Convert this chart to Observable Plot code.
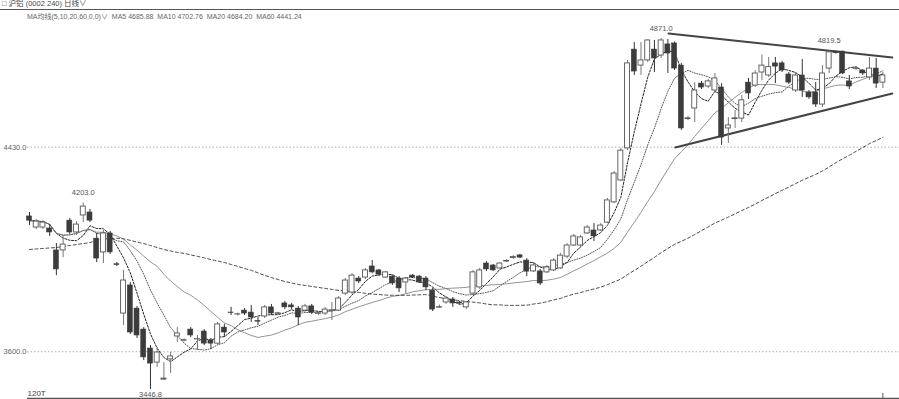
<!DOCTYPE html>
<html><head><meta charset="utf-8">
<script src="https://cdn.jsdelivr.net/npm/d3@7"></script>
<script src="https://cdn.jsdelivr.net/npm/@observablehq/plot@0.6"></script>
<style>
body{margin:0;background:#fff;font-family:"Liberation Sans","Noto Sans CJK SC",sans-serif;}
#wrap{position:relative;width:899px;height:399px;overflow:hidden;}
#chart{position:absolute;left:0;top:0;}
#h1{position:absolute;left:2px;top:0px;font-size:7.5px;line-height:8px;color:#444;white-space:nowrap;font-family:"Liberation Sans","Noto Sans CJK SC",sans-serif;}
#h2{position:absolute;left:27px;top:11px;font-size:7px;color:#666;white-space:nowrap;font-family:"Liberation Sans","Noto Sans CJK SC",sans-serif;}
#topline{position:absolute;left:0;top:9px;width:899px;height:0;border-top:1.5px solid #555;}
</style></head>
<body>
<div id="wrap"><div id="chart"></div><div id="topline"></div>
<div id="h1">□ 沪铝 (0002 240) 日线∨</div>
<div id="h2">MA均线(5,10,20,60,0,0)∨ &nbsp;MA5 4685.88 &nbsp;MA10 4702.76 &nbsp;MA20 4684.20 &nbsp;MA60 4441.24</div>
</div>
<script>
const opens  = [4149,4104,4104,4100,4011,4011,4132,4084,4153,4165,4059,4003,4080,3955,3755,3869,3775,3690,3613,3556,
3487,3569,3662,3645,3690,3650,3682,3646,3633,3698,3759,3751,3767,3759,3724,3743,3780,3754,3796,3788,
3775,3767,3784,3754,3755,3767,3767,3836,3840,3897,3901,3946,3930,3901,3905,3897,3881,3909,3905,3897,
3848,3779,3800,3812,3800,3780,3836,3861,3958,3950,3938,3966,3980,3991,3970,3926,3926,3922,3930,3938,
3986,4031,4031,4080,4092,4092,4124,4206,4295,4425,4826,4761,4782,4826,4802,4847,4851,4761,4544,4587,
4688,4676,4660,4672,4506,4544,4546,4692,4680,4733,4721,4770,4770,4725,4660,4721,4652,4652,4603,4749,
4818,4818,4697,4748,4741,4713,4749,4692];
const highs  = [4165,4137,4132,4116,4039,4072,4141,4128,4203,4177,4080,4092,4088,3962,3930,3881,3784,3698,3625,3617,
3556,3597,3698,3652,3698,3666,3690,3654,3719,3711,3780,3757,3775,3788,3739,3788,3792,3760,3804,3796,
3784,3792,3792,3760,3780,3800,3824,3897,3917,3905,3938,3970,3934,3926,3909,3905,3901,3913,3909,3905,
3857,3790,3824,3820,3804,3804,3930,3938,3966,3954,3962,3974,3990,3995,3978,3958,3934,3950,3978,3999,
4039,4076,4072,4112,4120,4120,4222,4331,4425,4782,4855,4855,4866,4863,4871,4867,4857,4770,4555,4692,
4697,4705,4729,4688,4550,4579,4640,4709,4741,4805,4794,4794,4778,4733,4733,4786,4660,4692,4761,4819.5,
4819,4819,4721,4757,4745,4794,4790,4733];
const lows   = [4112,4096,4096,4068,3909,3982,4076,4072,4124,4124,3962,3958,3995,3946,3706,3670,3654,3564,3446.8,3536,
3483,3512,3638,3640,3658,3605,3625,3609,3625,3658,3747,3745,3747,3719,3706,3735,3747,3750,3771,3771,
3706,3759,3751,3747,3747,3727,3763,3828,3832,3877,3893,3917,3905,3897,3869,3840,3836,3897,3877,3848,
3763,3775,3792,3780,3792,3771,3828,3853,3926,3926,3934,3962,3975,3978,3905,3922,3869,3917,3926,3934,
3978,4027,4023,4076,4047,4088,4120,4201,4290,4416,4721,4721,4774,4733,4790,4729,4741,4498,4538,4530,
4664,4668,4648,4437,4445,4506,4530,4624,4672,4701,4713,4688,4733,4684,4652,4632,4624,4591,4591,4729,
4808,4725,4664,4741,4721,4701,4668,4668];
const closes = [4132,4128,4124,4084,3934,4035,4084,4116,4189,4132,3978,4080,4003,3952,3889,3678,3666,3577,3552,3597,
3491,3581,3674,3647,3666,3651,3633,3633,3711,3678,3757,3752,3755,3739,3722,3780,3755,3756,3780,3780,
3739,3784,3759,3756,3771,3768,3816,3889,3909,3885,3930,3922,3913,3922,3877,3857,3897,3901,3881,3861,
3771,3781,3816,3796,3796,3800,3922,3930,3934,3930,3958,3968,3984,3982,3925,3950,3877,3942,3970,3990,
4031,4068,4064,4104,4068,4112,4214,4323,4416,4770,4737,4782,4863,4790,4863,4810,4749,4506,4547,4660,
4672,4697,4709,4469,4518,4547,4620,4648,4729,4761,4755,4757,4741,4692,4721,4660,4632,4603,4729,4815,
4812,4729,4676,4750,4729,4749,4688,4721];
const ma60Lead = [4015,4017,4019,4021,4023,4027,4031,4035,4039,4043,4052,4056,4060,4060,4058,4052,4045,4039,4031,4023,
4015,4009,4003,3999,3993,3987,3981,3974,3968,3962,3954,3946,3938,3930,3920,3910,3901,3893,3885,3879,
3873,3869,3865,3861,3857,3853,3849,3847,3843,3841,3837,3834,3832,3830,3829,3829,3829,3830,3831];

const gridTicks = [4430, 3600];
const peakLabels = [8, 94, 119];
const troughLabels = [18];
const maShort = [5, 10, 20];
const maLong = 60;
const trendUpper = [{i: 95.1, p: 4891}, {i: 128.4, p: 4794}];
const trendLower = [{i: 96.1, p: 4429}, {i: 128.4, p: 4648}];
const volumeLabel = "120T";

const data = opens.map((o, i) => ({i, open: o, high: highs[i], low: lows[i], close: closes[i], up: closes[i] >= o}));
const up = data.filter(d => d.up), down = data.filter(d => !d.up);
const half = 0.37;
const bottom = d3.min(lows);
const last = data.length - 1;
const ma60 = data.map(d => ({i: d.i, v: d.i < ma60Lead.length ? ma60Lead[d.i] : d3.mean(closes.slice(d.i - maLong + 1, d.i + 1))}));

const maStyles = {
  5:  {stroke: "#222", strokeWidth: 1, strokeDasharray: "2,1.5"},
  10: {stroke: "#444", strokeWidth: 0.9, strokeDasharray: "1,1.5"},
  20: {stroke: "#777", strokeWidth: 0.8}
};

const chart = Plot.plot({
  width: 899, height: 399,
  marginLeft: 27, marginRight: 0, marginTop: 0, marginBottom: 0,
  x: {type: "linear", domain: [0, 127], range: [29, 882.4], axis: null},
  y: {type: "linear", domain: [3446.8, 4871], range: [389, 38], axis: null},
  style: {background: "#fff", fontFamily: "Liberation Sans, sans-serif"},
  marks: [
    Plot.ruleY(gridTicks, {stroke: "#999", strokeDasharray: "1.5,2", strokeWidth: 0.8}),
    Plot.text(gridTicks, {y: d => d, text: d => d.toFixed(1), frameAnchor: "left", textAnchor: "end", dx: -1, fontSize: 7.5, fill: "#666"}),
    ...maShort.map(k => Plot.lineY(data, Plot.windowY({k, anchor: "end", reduce: "mean"}, {x: "i", y: "close", ...maStyles[k]}))),
    Plot.line(ma60, {x: "i", y: "v", stroke: "#333", strokeWidth: 0.9, strokeDasharray: "3,2.5", curve: "monotone-x"}),
    Plot.line(trendUpper, {x: "i", y: "p", stroke: "#444", strokeWidth: 2}),
    Plot.line(trendLower, {x: "i", y: "p", stroke: "#444", strokeWidth: 2}),
    Plot.ruleX(data, {x: "i", y1: "low", y2: "high", stroke: d => d.up ? "#777" : "#333", strokeWidth: 1}),
    Plot.rect(down, {x1: d => d.i - half, x2: d => d.i + half, y1: "open", y2: "close", fill: "#3c3c3c", stroke: "#3c3c3c", strokeWidth: 0.6}),
    Plot.rect(up, {x1: d => d.i - half, x2: d => d.i + half, y1: "open", y2: "close", fill: "#fff", stroke: "#555", strokeWidth: 0.9}),
    Plot.text(data.filter(d => peakLabels.includes(d.i)), {x: "i", y: "high", text: d => d.high.toFixed(1), lineAnchor: "bottom", dy: -8, fontSize: 7.5, fill: "#555"}),
    Plot.text(data.filter(d => troughLabels.includes(d.i)), {x: "i", y: "low", text: d => d.low.toFixed(1), lineAnchor: "top", dy: 2, fontSize: 7.5, fill: "#555"}),
    Plot.ruleY([bottom], {dy: 9, stroke: "#555", strokeWidth: 1.5}),
    Plot.ruleX([last], {y1: bottom, y2: bottom + 20, dy: 9, stroke: "#555", strokeWidth: 1}),
    Plot.text([volumeLabel], {frameAnchor: "bottom-left", textAnchor: "start", lineAnchor: "bottom", dy: -4, fontSize: 8, fill: "#444"})
  ]
});
document.getElementById("chart").appendChild(chart);
</script>
</body></html>
